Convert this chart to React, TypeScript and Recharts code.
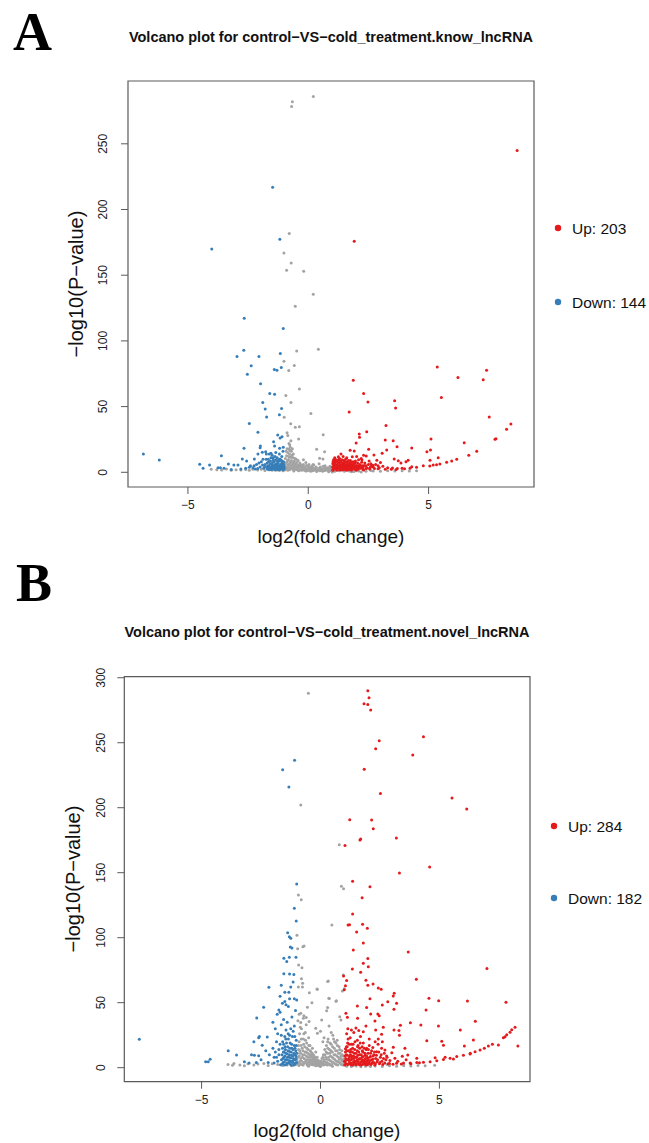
import React from 'react';
import { ScatterChart, Scatter, XAxis, YAxis, ReferenceArea } from 'recharts';

const RED = '#E41A1C';
const BLUE = '#377EB8';
const GREY = '#A3A3A3';
const FONT = '"Liberation Sans", Arial, Helvetica, sans-serif';

// ---------- Panel A: know_lncRNA ----------
const titleA = 'Volcano plot for control\u2212VS\u2212cold_treatment.know_lncRNA';
const xTicksA = [-5, 0, 5];
const yTicksA = [0, 50, 100, 150, 200, 250];
const legendA = ['Up: 203', 'Down: 144'];

const upA: [number, number][] = [
  [8.68,244.9],[1.91,175.8],[5.36,80.2],[7.41,77.7],[6.22,72.2],[7.27,70.4],[1.87,70.1],[2.30,60],[5.53,57],[2.48,53.4],
  [3.59,54.4],[3.63,48.9],[1.70,45.8],[7.52,42],[8.42,36.7],[3.23,35.7],[8.24,32.7],[2.43,30.9],[2.12,29.1],[2.13,26.6],
  [7.76,25.1],[7.80,25.6],[5.10,25.3],[3.20,24.5],[3.53,24],[6.48,22.5],[1.99,22.3],[3.69,19.5],[4.30,18.5],[2.51,17.5],
  [5.08,16.9],[3.26,16.9],[1.74,16.7],[1.91,16.2],[7.00,16],[4.93,15.7],[3.07,14.4],[1.36,13.9],[2.73,13.1],[2.30,12.9],
  [6.67,12.9],[2.41,12.4],[1.83,11.9],[1.25,11.9],[2.01,12.1],[5.40,11.1],[3.57,10.1],[6.17,9.9],[2.23,9.3],[2.85,9.1],
  [4.15,9.1],[5.06,9.1],[3.74,8.8],[2.53,8.6],[5.96,8.6],[1.52,8],[4.06,8],[5.75,7.6],[3.85,7],[5.47,6.3],
  [5.19,5.5],[4.78,5],[4.50,3.8],[4.30,4.3],[4.23,3],[5.05,4.8],[5.33,5.8],[3.1,4.5],[3.3,3.5],[3.5,3.2],
  [3.7,2.8],[3.9,3],[4.0,2.6],[2.9,5],[2.7,4],[2.6,6.5],[2.4,5],[2.2,3.5],
  [1.02,2],[1.05,3.5],[1.08,5],[1.1,7],[1.12,8.5],[1.15,2.5],[1.18,4],[1.2,6],[1.22,9],[1.25,3],
  [1.28,5],[1.3,7.5],[1.32,2],[1.35,4],[1.38,6],[1.4,9.5],[1.42,3],[1.45,5],[1.48,7],[1.5,2.2],
  [1.52,4.2],[1.55,10],[1.58,3.2],[1.6,6],[1.62,8],[1.65,2.5],[1.68,4.8],[1.7,6.8],[1.72,3.5],[1.75,9],
  [1.78,2],[1.8,5.5],[1.82,7.5],[1.85,3],[1.88,4.5],[1.9,6.2],[1.93,2.4],[1.96,8.5],[2.0,3.8],[2.02,5.2],
  [2.05,7],[2.08,2.5],[2.1,4.5],[2.14,6],[2.18,3],[2.2,10.5],[2.25,5],[2.28,2.2],[2.35,7],[2.45,3.2],
  [2.55,2.5],[2.62,4.5],[2.75,2.8],[2.8,6],[2.95,3.5],[3.0,7.5],[1.1,11],[1.3,10.5],[1.45,12],[1.6,11],
  [1.05,9.5],[1.02,6.5],[1.03,1.6],[1.2,1.6],[1.4,1.7],[1.6,1.6],[1.8,1.8],[2.0,1.7],[2.3,1.8],
  [1.01,4.2],[1.03,8],[1.06,2.8],[1.09,6],[1.11,3.8],[1.13,10],[1.16,5.2],[1.19,7.8],[1.21,2.8],[1.23,4.6],
  [1.26,7],[1.27,9.8],[1.29,3.6],[1.33,5.6],[1.34,8.4],[1.36,2.6],[1.39,4.8],[1.41,7],[1.44,2.4],[1.46,6],
  [1.47,9],[1.49,3.8],[1.53,5.8],[1.56,2.8],[1.57,7.6],[1.59,4.6],[1.63,3.6],[1.66,6],[1.67,9],[1.69,2.2],
  [1.73,5.4],[1.76,3],[1.77,7.2],[1.79,4.4],[1.83,2.6],[1.86,8],[1.87,5.6],[1.91,3.4],[1.94,7],[1.97,4.8],
  [2.03,2.4],[2.06,4],[2.09,9.5],[2.13,3.4],[2.16,5.4],[2.22,7.6],[2.27,3.8],[2.33,5.2],[2.4,2.8],[2.5,6],
  [2.58,3.8],[2.68,5.4],[2.9,2.6],[3.2,2.4],[3.45,2.4],[3.65,2.2],
];

const downA: [number, number][] = [
  [-1.48,217],[-4.01,170],[-1.18,177.3],[-2.66,117.2],[-1.04,109.4],[-2.68,92.9],[-2.96,88.1],[-2.05,88.1],[-1.16,90.4],[-2.37,81],
  [-1.12,79.8],[-2.53,74.7],[-1.41,78.3],[-1.30,77.7],[-1.98,67.3],[-1.60,60],[-1.40,59.3],[-1.89,53.2],[-1.79,48.1],[-1.11,48.6],
  [-1.73,42],[-1.20,43.8],[-2.45,37.2],[-2.09,30.4],[-1.27,28.3],[-1.17,26],[-1.09,27],[-1.44,23.3],[-1.40,20],[-1.99,20],
  [-2.0,18.6],[-2.67,18.2],[-1.19,18.2],[-1.04,19],[-1.91,15.2],[-1.77,15.7],[-1.74,13.9],[-1.62,14],[-1.55,14.5],[-2.09,13.9],
  [-3.61,12.6],[-6.85,13.9],[-6.19,9.3],[-2.74,10.1],[-2.24,10.1],[-2.56,8.6],[-4.51,6.1],[-4.37,3],[-4.10,5.5],[-3.75,3.5],
  [-3.65,3.5],[-3.50,3],[-3.32,6.3],[-3.09,5.5],[-2.92,5.5],[-2.4,5],[-2.3,3.5],[-2.15,6],[-2.0,4],[-1.95,8],
  [-1.85,3],[-1.8,6],[-1.75,10],[-1.7,2.5],[-1.68,5],[-1.65,8],[-1.6,3.5],[-1.58,6.5],[-1.55,11],[-1.52,2.2],
  [-1.5,4.5],[-1.48,7.5],[-1.45,9.5],[-1.42,3],[-1.4,5.5],[-1.38,12],[-1.35,2.5],[-1.32,4],[-1.3,6.5],[-1.28,8.5],
  [-1.25,3],[-1.22,5],[-1.2,10],[-1.18,2.2],[-1.15,4],[-1.12,6],[-1.1,8],[-1.08,3],[-1.06,5],[-1.04,7],
  [-1.02,2.5],[-1.01,4.5],[-1.5,13],[-1.35,15],[-1.2,14],[-1.1,12],[-1.05,16],[-2.6,3],[-2.8,2.5],[-3.2,2.2],[-2.2,2.5],
  [-1.73,4],[-1.71,7],[-1.67,3],[-1.66,10],[-1.63,5],[-1.61,2],[-1.57,8.5],[-1.54,4],[-1.51,6],[-1.49,2.8],
  [-1.46,11],[-1.43,4.5],[-1.41,8],[-1.39,2],[-1.37,6],[-1.34,9.5],[-1.33,3.2],[-1.31,5],[-1.29,11],[-1.27,2],
  [-1.26,7],[-1.24,4],[-1.21,8.5],[-1.19,3.5],[-1.17,6],[-1.16,10],[-1.14,2.5],[-1.13,5],[-1.11,9],[-1.09,4],
  [-1.07,6.5],[-1.05,2],[-1.03,8],[-1.02,5.5],[-1.0,3],[-1.9,5.5],[-2.05,7],[-2.25,5],[-2.45,3.8],[-2.1,2.8],
  [-1.88,10],[-1.82,4],
];

const nsA: [number, number][] = [
  [0.21,286],[-0.66,282],[-0.69,278.3],[-0.79,181.8],[-1.01,166.9],[-0.71,159.3],[-0.90,153.7],[-0.19,153],[0.21,135.5],[-0.54,126.4],
  [0.42,93.7],[-0.48,92.4],[-1.01,84.6],[-0.58,81.3],[-0.81,77.5],[-0.37,63.3],[-0.93,58.5],[-0.72,53.2],[0.11,44.8],[-1.00,41.8],
  [-0.73,36.9],[-0.54,34.2],[-0.37,34.7],[0.62,28.6],[-0.40,25.3],[-0.88,30],[-0.85,28],[0.35,17.5],[0.68,15.7],[0.47,10.6],
  [0.61,10.1],[-0.5,10],[-0.2,9.5],[0.2,6],
  [-0.77,20.7],[-0.75,19],[-0.8,17.5],[-0.7,16],[-0.85,15],[-0.78,14],[-0.68,13],[-0.9,12.5],[-0.74,11.5],[-0.62,11],
  [-0.95,10.5],[-0.82,9.8],[-0.7,9],[-0.58,8.5],[-0.88,8],[-0.76,7.2],[-0.64,6.8],[-0.52,6.5],[-0.96,6],[-0.84,5.5],
  [-0.7,5],[-0.45,5],[-0.6,4.2],[-0.9,4],[-0.78,3.5],[-0.38,3.8],[-0.3,4.5],[-0.5,3],[-0.65,2.5],[-0.95,2.2],
  [-0.85,1.5],[-0.25,2.5],[-0.15,3.2],[-0.05,2],[0.05,3.5],[0.15,2.2],[0.25,1.5],[0.3,3],[0.4,2],[0.5,4],
  [0.55,1.6],[0.65,2.8],[0.75,1.8],[0.8,3.5],[0.9,2.2],[0.95,1.2],[-0.4,1.2],[-0.1,1],[0.1,0.8],[0.35,0.6],
  [0.6,0.8],[0.85,0.5],[-0.6,1],[-0.2,6],[0.0,5],[-0.1,7.5],[-0.35,7],[0.15,4.5],[0.45,6.5],[0.7,5],[0.9,4.5],
  [-4.03,2.3],[-3.8,2],[-3.6,1.8],[-3.4,2.5],[-3.2,1.5],[-3.0,2],[-2.8,1.8],[-2.6,2.2],[-2.45,1.5],[-2.3,2.3],
  [-2.1,1.8],[-1.95,2.4],[-1.8,1.4],[-1.65,1.9],[-1.5,1.5],[-1.35,1.6],[-1.2,1.4],[-1.05,1.2],
  [1.1,0.8],[1.3,1.1],[1.5,0.7],[1.7,1],[1.9,0.6],[2.1,0.9],[2.4,0.7],[2.7,1],[3.0,0.8],[3.3,1.1],
  [3.6,0.9],[3.9,1.2],[4.2,1],[4.5,1.2],[2.6,1.3],[2.0,1.2],[1.8,0.4],[2.2,0.3],[1.0,0.3],
  [-1.08,3.2],[-1.04,5.8],[-1.0,7.5],[-0.98,1.8],[-0.93,3.6],[-0.91,7],[-0.87,2.6],[-0.86,9],[-0.83,4.6],[-0.81,12],
  [-0.79,6.2],[-0.77,2],[-0.75,16.5],[-0.73,8.2],[-0.72,3],[-0.69,11.5],[-0.67,5.5],[-0.66,18],[-0.63,3.5],[-0.61,7.8],
  [-0.59,1.5],[-0.57,5.5],[-0.55,10.5],[-0.53,2.5],[-0.51,4.5],[-0.48,7.5],[-0.46,2],[-0.44,3.8],[-0.42,9],[-0.4,5.5],
  [-0.37,2.2],[-0.34,4],[-0.32,6],[-0.29,1.6],[-0.27,3.4],[-0.23,5],[-0.21,1.8],[-0.18,4],[-0.13,1.5],[-0.11,3],
  [-0.08,5.2],[-0.03,1.2],[0.0,3],[0.03,6],[0.07,1.5],[0.1,2.8],[0.12,4],[0.18,1.2],[0.2,3.5],[0.23,5.5],
  [0.28,2.2],[0.33,4],[0.37,1.4],[0.43,2.8],[0.48,1.2],[0.52,3],[0.58,2.2],[0.62,4.5],[0.68,1.4],[0.72,3],
  [0.78,2],[0.83,1.2],[0.87,2.8],[0.93,3.4],[0.97,2],[-0.88,18],[-0.72,24],[-0.8,22],[-0.62,14],[-0.92,16],
];

// ---------- Panel B: novel_lncRNA ----------
const titleB = 'Volcano plot for control\u2212VS\u2212cold_treatment.novel_lncRNA';
const xTicksB = [-5, 0, 5];
const yTicksB = [0, 50, 100, 150, 200, 250, 300];
const legendB = ['Up: 284', 'Down: 182'];

const upB: [number, number][] = [
  [1.99,290],[2.04,284.6],[1.83,280],[1.99,279.5],[2.11,275.2],[4.33,254.6],[2.47,251.5],[2.32,245.4],[3.88,240.5],[1.84,229.5],
  [2.52,211],[5.53,207.5],[6.15,199],[1.23,190.8],[2.15,190.5],[2.22,183.8],[3.19,176.7],[1.66,175.2],[1.69,176],[1.03,171],
  [4.59,154.4],[3.32,149.8],[1.35,143.4],[2.08,139.2],[1.75,130.8],[1.35,118.2],[1.16,109.8],[1.22,110],[1.77,110.3],[1.97,107.2],
  [1.52,104.4],[1.80,95.9],[1.38,90.5],[3.69,89],[1.99,83.9],[1.80,80.3],[2.01,77.7],[1.34,75.9],[1.69,73.4],[7.0,76.2],
  [4.03,68],[0.97,70.5],[1.1,67],[1.05,63],[1.0,60],[1.91,67.2],[1.99,63.4],[2.21,64.4],[2.43,61.3],[2.55,60.3],
  [3.10,57.2],[3.06,55.2],[3.20,49.5],[2.83,50.8],[2.60,48.2],[3.09,44.9],[2.08,53.1],[4.56,53.4],[4.97,51.5],[6.18,51.3],
  [7.80,50.3],[1.55,47.5],[1.94,46.2],[2.11,41.3],[2.29,35.9],[2.41,41.3],[2.47,40],[1.07,41.8],[1.13,38.8],[1.56,38],
  [1.30,29],[1.91,32.1],[1.80,27.7],[1.49,30.5],[1.61,28.5],[3.36,32.6],[3.09,29],[3.30,28.5],[3.32,24.9],[3.78,34.6],
  [4.22,32.8],[4.44,44.4],[4.96,32.1],[5.88,29],[6.51,35.7],[2.64,31.1],[2.57,25.7],[2.32,29],[2.05,22.1],[2.43,22.1],
  [2.57,14.9],[1.94,14.9],[4.47,20.8],[5.17,17.2],[5.10,20.3],[6.05,16.7],[6.43,21.3],[7.48,17.5],[7.76,23.8],[8.30,16.7],
  [3.55,14.9],[3.06,15.7],[2.71,13.6],[2.36,12.3],[3.0,11.5],[3.67,9.8],[2.78,9],[3.44,8.7],[3.13,7.2],[4.82,7.7],
  [5.24,8],[5.59,6.7],[6.30,11.1],[4.05,7.2],[4.16,3.8],
  [8.18,31],[8.04,29.2],[7.97,27.2],[7.83,25.4],[7.69,23.1],[7.23,18],[7.06,16.7],[6.89,14.9],[6.71,13.6],[6.50,12.3],
  [6.29,10.5],[6.01,9.5],[5.73,8.5],[5.45,7.2],[5.17,6.2],[4.89,5.4],[4.61,4.6],[4.33,4.2],[4.05,3.9],[3.77,3.6],
  [3.49,3.6],[3.2,3.3],[2.9,3.2],
  [1.02,2],[1.04,4.5],[1.06,7],[1.08,10],[1.1,13],[1.12,16],[1.14,19],[1.16,22],[1.18,3],[1.2,5.5],
  [1.22,8.5],[1.25,12],[1.28,2.2],[1.3,6],[1.32,9],[1.35,15],[1.38,4],[1.4,7],[1.42,11],[1.45,20],
  [1.48,2.5],[1.5,5],[1.52,8],[1.55,13],[1.58,17],[1.6,3],[1.62,6.5],[1.65,10],[1.68,24],[1.7,2],
  [1.72,4.5],[1.75,8],[1.78,12],[1.8,19],[1.82,3.5],[1.85,6],[1.88,9.5],[1.9,2.2],[1.92,14],[1.95,5],
  [1.98,7.5],[2.0,11],[2.02,3],[2.05,17],[2.08,5.5],[2.1,8.5],[2.12,2.5],[2.15,13],[2.18,4],[2.2,6.5],
  [2.25,10],[2.28,2],[2.32,7],[2.38,4.5],[2.42,18],[2.48,3],[2.52,8],[2.58,5],[2.62,2.5],[2.68,11],
  [2.75,6],[2.85,3],[2.92,5.5],[3.05,2.6],[3.25,5],[3.4,2.8],[3.6,6],[3.8,3],[1.1,26],[1.25,23],
  [1.15,30],[1.3,18],[1.4,27],[1.55,21],[1.05,14.5],[1.65,15],[1.75,16],[2.2,15.5],[2.3,20],[2.6,20],
  [1.01,5],[1.03,9],[1.05,12],[1.07,3],[1.09,16],[1.11,6],[1.13,9.5],[1.15,2.5],[1.17,13],[1.19,7],
  [1.21,18],[1.23,4],[1.26,10],[1.27,14],[1.29,3.5],[1.31,7.5],[1.34,12],[1.36,2],[1.37,18],[1.39,9],
  [1.41,5],[1.44,14],[1.46,3.5],[1.47,8],[1.49,11],[1.51,2.5],[1.54,6],[1.56,16],[1.57,9.5],[1.59,4.5],
  [1.61,12],[1.64,2.2],[1.66,7],[1.67,19],[1.69,4],[1.71,10],[1.74,6],[1.76,13],[1.77,2.5],[1.79,8.5],
  [1.81,5],[1.84,15],[1.86,3],[1.87,11],[1.89,7],[1.91,4],[1.94,9],[1.96,2.5],[1.99,6],[2.01,14],
  [2.04,4],[2.07,8],[2.11,11],[2.14,3],[2.17,6],[2.21,9],[2.24,4],[2.27,12],[2.31,3],[2.35,9.5],
  [2.4,6],[2.45,12],[2.5,4],[2.55,10],[2.65,7],[2.7,3.5],[2.8,8],
];

const downB: [number, number][] = [
  [-1.09,236.5],[-1.59,229.2],[-1.33,216],[-1.00,141.3],[-1.10,122.6],[-1.02,112.8],[-1.38,103.8],[-1.31,100.8],[-1.25,99.5],[-1.27,92.8],
  [-1.2,92],[-1.54,84.1],[-1.42,81.6],[-1.31,84.9],[-1.03,84.9],[-1.54,72.3],[-1.30,72],[-1.12,71.6],[-2.17,61.8],[-1.65,63.4],
  [-1.5,58],[-1.33,58],[-1.3,53],[-1.1,53],[-1.0,52],[-2.39,46.5],[-1.75,44.4],[-1.82,41],[-1.7,42.7],[-1.5,51],
  [-1.6,49.5],[-1.45,48.5],[-1.35,47],[-2.68,38.2],[-2.57,23.9],[-2.6,23],[-2.24,23.6],[-7.62,21.8],[-4.83,4.6],[-4.72,4.6],
  [-4.64,6.5],[-3.88,13.1],[-3.53,9.8],[-3.2,4.5],[-2.9,10],[-2.78,9.5],[-2.6,9.2],[-2.80,20],[-2.45,17.2],[-2.15,10],
  [-2.0,35],[-1.9,30],[-1.8,26],[-1.65,33],[-1.55,37],[-1.4,35],[-1.2,39],[-1.1,32],[-1.05,44],[-1.25,62],
  [-1.15,66],[-1.7,55],[-1.85,20],[-2.0,15],[-2.3,13],[-2.5,6],[-2.7,4],[-3.0,3.5],[-2.2,4],[-1.95,8],
  [-1.6,3],[-1.58,7],[-1.56,12],[-1.55,18],[-1.52,4.5],[-1.5,9],[-1.48,14],[-1.46,22],[-1.44,2.5],[-1.42,6],
  [-1.4,10.5],[-1.38,16],[-1.36,26],[-1.34,3.5],[-1.32,8],[-1.3,12.5],[-1.28,19],[-1.26,5],[-1.24,2],[-1.22,9.5],
  [-1.2,15],[-1.18,24],[-1.16,4],[-1.14,7],[-1.12,11],[-1.1,17],[-1.08,2.8],[-1.06,6],[-1.04,13],[-1.02,21],
  [-1.01,4],[-1.03,9],[-1.15,28],[-1.25,30],[-1.45,29],[-1.65,25],[-1.7,18],[-1.75,10],[-1.8,5],[-1.68,2.2],[-1.9,12],
  [-1.64,6],[-1.62,10],[-1.6,15],[-1.59,20],[-1.57,4],[-1.54,8],[-1.53,12],[-1.51,2],[-1.49,16],[-1.47,6],
  [-1.45,11],[-1.43,19],[-1.41,3.5],[-1.39,8],[-1.37,13],[-1.35,22],[-1.33,5.5],[-1.31,10],[-1.29,15],[-1.27,3],
  [-1.25,7.5],[-1.23,12],[-1.21,18],[-1.19,5],[-1.17,9],[-1.15,14],[-1.13,2],[-1.11,6],[-1.09,10],[-1.07,15],
  [-1.05,3.5],[-1.03,7],[-1.01,11],[-1.02,17],[-1.08,24],[-1.3,25],[-1.5,24],[-1.75,14],[-1.85,8],[-1.95,3.5],
];

const nsB: [number, number][] = [
  [-0.51,288],[-0.83,202],[-0.93,132.8],[-0.81,129.2],[-0.99,101.8],[-0.96,91.5],[-0.74,93.1],[-0.69,93.6],[-0.92,79],[-0.78,76.9],
  [-0.8,68.5],[-0.75,65],[-0.93,62],[-0.76,62],[-0.15,60.5],[-0.47,57.7],[0.33,66.7],[0.37,53.3],[0.65,51.1],[-0.36,50],
  [-0.55,46.5],[-0.9,41],[-0.7,40],[0.30,66.2],[0.96,71.3],[0.92,59],[1.0,60.8],[0.35,53.4],[0.67,51.5],[0.30,46.2],
  [0.36,32.1],[0.81,39.2],[0.86,36.7],[-0.13,60.3],[0.26,43.8],[0.05,36.7],[-0.83,41.8],[-0.6,38.5],[-0.48,35.6],[-0.83,34.8],
  [-0.2,30.3],[-0.13,26.5],[0.15,23],[0.3,20],[0.79,171.5],[0.88,139.5],[0.97,137.7],[0.48,109.8],
  [-0.98,3],[-0.95,8],[-0.92,14],[-0.9,20],[-0.88,26],[-0.86,5],[-0.84,11],[-0.82,17],[-0.8,30],[-0.78,2.5],
  [-0.76,8],[-0.74,13],[-0.72,22],[-0.7,4],[-0.68,10],[-0.66,16],[-0.64,27],[-0.62,6],[-0.6,12],[-0.58,19],
  [-0.56,2],[-0.54,8],[-0.52,14],[-0.5,23],[-0.48,4.5],[-0.46,10],[-0.44,17],[-0.42,6],[-0.4,12],[-0.38,2.5],
  [-0.36,8],[-0.34,15],[-0.32,4],[-0.3,10],[-0.28,6],[-0.26,2],[-0.24,8],[-0.22,4],[-0.2,12],[-0.18,3],
  [-0.15,6],[-0.12,2],[-0.1,4.5],[-0.07,1.5],[-0.04,3],[0.0,5],[0.03,2],[0.06,7],[0.09,3.5],[0.12,10],
  [0.15,5],[0.18,14],[0.2,2.5],[0.22,8],[0.25,17],[0.28,4],[0.3,11],[0.32,22],[0.35,6],[0.38,14],
  [0.4,2],[0.42,9],[0.45,18],[0.48,4.5],[0.5,12],[0.52,25],[0.55,7],[0.58,15],[0.6,3],[0.62,10],
  [0.65,19],[0.68,5],[0.7,13],[0.72,2],[0.75,8],[0.78,16],[0.8,4],[0.82,11],[0.85,7],[0.88,2.5],
  [0.9,13],[0.92,5],[0.95,9],[0.98,3],[-0.6,33],[-0.72,38],[-0.95,36],[0.1,20],[0.0,28],[0.45,27],
  [-3.89,2.5],[-3.64,3.2],[-3.39,2],[-3.05,3],[-2.63,2.8],[-2.38,3.2],[-2.03,3],[-3.2,1.5],[-2.8,2],[-1.8,2.5],
  [-1.6,1.6],[-1.4,2],[-1.2,1.5],[-1.05,2.2],[-3.7,1.8],[-2.2,1.7],
  [1.1,1],[1.3,0.8],[1.5,1.2],[1.7,0.7],[1.9,1.1],[2.1,0.8],[2.3,1.3],[2.6,0.9],[2.9,1.4],[3.2,1],
  [3.5,1.5],[3.8,1.2],[4.1,1.6],[4.4,1.4],[4.8,1.8],[1.4,2],[2.0,2.1],[2.8,2.4],[3.5,2.6],[0.5,1],[-0.5,1],[0,0.8],
  [-0.99,6],[-0.97,11],[-0.94,4],[-0.93,17],[-0.91,1.6],[-0.89,9],[-0.87,13],[-0.85,2.8],[-0.83,7],[-0.81,22],
  [-0.79,5],[-0.77,15],[-0.75,10],[-0.73,2],[-0.71,18],[-0.69,7],[-0.67,3.4],[-0.65,12],[-0.63,21],[-0.61,5],
  [-0.59,9],[-0.57,15],[-0.55,3.5],[-0.53,11],[-0.51,6],[-0.49,17],[-0.47,2.4],[-0.45,8],[-0.43,13],[-0.41,4],
  [-0.39,9.5],[-0.37,5.5],[-0.35,11],[-0.33,2.2],[-0.31,7],[-0.29,3.5],[-0.27,9],[-0.25,5],[-0.23,2.5],[-0.21,6.5],
  [-0.19,1.5],[-0.17,4.5],[-0.14,8],[-0.11,3],[-0.09,5.5],[-0.06,2.5],[-0.02,4],[0.01,1.5],[0.04,5],[0.07,3],
  [0.1,8],[0.13,2],[0.16,6],[0.19,10],[0.21,4],[0.24,12],[0.26,6.5],[0.29,2],[0.31,15],[0.34,8],
  [0.36,3],[0.39,11],[0.41,5.5],[0.44,13],[0.46,2.5],[0.49,8],[0.51,16],[0.54,4],[0.57,10],[0.59,20],
  [0.61,6],[0.64,13],[0.66,2.5],[0.69,9],[0.71,17],[0.74,4.5],[0.76,11],[0.79,6.5],[0.81,14],[0.84,3],
  [0.86,9],[0.89,5.5],[0.91,10],[0.94,2],[0.96,6.5],[0.99,4.5],[-0.7,26],[-0.85,31],[0.55,22],[0.7,21],[0.4,19],
];

const toPts = (arr: [number, number][]) => arr.map(([x, y]) => ({ x, y }));
const fmt = (v: number) => (v < 0 ? '\u2212' + Math.abs(v) : String(v));

const makeDot = (color: string) => (props: any) =>
  props.cx == null ? <g /> : <circle cx={props.cx} cy={props.cy} r={1.5} fill={color} />;

const AXIS_COLOR = '#5a5a5a';

type PanelProps = {
  top: number; height: number;
  plot: { left: number; top: number; right: number; bottom: number };
  xDomain: [number, number]; yDomain: [number, number];
  xTicks: number[]; yTicks: number[];
  up: [number, number][]; down: [number, number][]; ns: [number, number][];
  yTickOff: number;
};

function Panel(p: PanelProps) {
  const W = 649;
  const yAxisW = 40;
  const xAxisH = 40;
  const margin = {
    left: p.plot.left - yAxisW,
    right: W - p.plot.right,
    top: p.plot.top - p.top,
    bottom: p.top + p.height - p.plot.bottom - xAxisH,
  };
  const XTick = (t: any) => (
    <text x={t.x} y={t.y + 9} textAnchor="middle" dominantBaseline="central" fontSize={12} fill="#222" fontFamily={FONT}>
      {fmt(t.payload.value)}
    </text>
  );
  const YTick = (t: any) => {
    const cx = t.x - p.yTickOff;
    return (
      <text x={cx} y={t.y} transform={`rotate(-90, ${cx}, ${t.y})`} textAnchor="middle" dominantBaseline="central" fontSize={12} fill="#222" fontFamily={FONT}>
        {fmt(t.payload.value)}
      </text>
    );
  };
  return (
    <div style={{ position: 'absolute', left: 0, top: p.top, width: W, height: p.height }}>
      <ScatterChart width={W} height={p.height} margin={margin}>
        <XAxis type="number" dataKey="x" domain={p.xDomain} ticks={p.xTicks} allowDataOverflow
          height={xAxisH} axisLine={false} tickLine={{ stroke: AXIS_COLOR }} tickSize={7} tick={XTick} interval={0} />
        <YAxis type="number" dataKey="y" domain={p.yDomain} ticks={p.yTicks} allowDataOverflow
          width={yAxisW} axisLine={false} tickLine={{ stroke: AXIS_COLOR }} tickSize={7} tick={YTick} interval={0} />
        <ReferenceArea x1={p.xDomain[0]} x2={p.xDomain[1]} y1={p.yDomain[0]} y2={p.yDomain[1]}
          fill="none" fillOpacity={0} stroke={AXIS_COLOR} strokeWidth={1.2} ifOverflow="visible" />
        <Scatter data={toPts(p.ns)} fill={GREY} shape={makeDot(GREY)} isAnimationActive={false} />
        <Scatter data={toPts(p.down)} fill={BLUE} shape={makeDot(BLUE)} isAnimationActive={false} />
        <Scatter data={toPts(p.up)} fill={RED} shape={makeDot(RED)} isAnimationActive={false} />
      </ScatterChart>
    </div>
  );
}

function Overlay() {
  const txt = { fontFamily: FONT, fill: '#111' } as const;
  return (
    <svg width={649} height={1143} style={{ position: 'absolute', left: 0, top: 0, pointerEvents: 'none' }}>
      <text x={13} y={50} fontFamily='"Liberation Serif", "Times New Roman", serif' fontWeight="bold" fontSize={54} fill="#000">A</text>
      <text x={16} y={601} fontFamily='"Liberation Serif", "Times New Roman", serif' fontWeight="bold" fontSize={54} fill="#000">B</text>

      <text x={331} y={37} textAnchor="middle" dominantBaseline="central" fontWeight="bold" fontSize={14.5} {...txt}>{titleA}</text>
      <text x={327} y={632} textAnchor="middle" dominantBaseline="central" fontWeight="bold" fontSize={14.5} {...txt}>{titleB}</text>

      <text x={331} y={536} textAnchor="middle" dominantBaseline="central" fontSize={19} {...txt}>log2(fold change)</text>
      <text x={327} y={1130} textAnchor="middle" dominantBaseline="central" fontSize={19} {...txt}>log2(fold change)</text>

      <text x={75.5} y={284} transform="rotate(-90, 75.5, 284)" textAnchor="middle" dominantBaseline="central" fontSize={20} {...txt}>{'\u2212log10(P\u2212value)'}</text>
      <text x={73} y={879} transform="rotate(-90, 73, 879)" textAnchor="middle" dominantBaseline="central" fontSize={20} {...txt}>{'\u2212log10(P\u2212value)'}</text>

      <circle cx={558} cy={228} r={3.2} fill={RED} />
      <text x={572} y={228} dominantBaseline="central" fontSize={15.5} {...txt}>{legendA[0]}</text>
      <circle cx={558} cy={302} r={3.2} fill={BLUE} />
      <text x={572} y={302} dominantBaseline="central" fontSize={15.5} {...txt}>{legendA[1]}</text>

      <circle cx={554} cy={826} r={3.2} fill={RED} />
      <text x={568} y={826} dominantBaseline="central" fontSize={15.5} {...txt}>{legendB[0]}</text>
      <circle cx={554} cy={898} r={3.2} fill={BLUE} />
      <text x={568} y={898} dominantBaseline="central" fontSize={15.5} {...txt}>{legendB[1]}</text>
    </svg>
  );
}

export default function App() {
  return (
    <div style={{ position: 'absolute', left: 0, top: 0, width: 649, height: 1143, background: '#fff', overflow: 'hidden' }}>
      <Panel top={0} height={560}
        plot={{ left: 128, top: 81, right: 534, bottom: 487 }}
        xDomain={[-7.49, 9.38]} yDomain={[-11.2, 297.8]}
        xTicks={xTicksA} yTicks={yTicksA}
        up={upA} down={downA} ns={nsA} yTickOff={16} />
      <Panel top={560} height={583}
        plot={{ left: 124.3, top: 676.7, right: 530, bottom: 1081.7 }}
        xDomain={[-8.25, 8.81]} yDomain={[-10.8, 300.8]}
        xTicks={xTicksB} yTicks={yTicksB}
        up={upB} down={downB} ns={nsB} yTickOff={14.6} />
      <Overlay />
    </div>
  );
}
